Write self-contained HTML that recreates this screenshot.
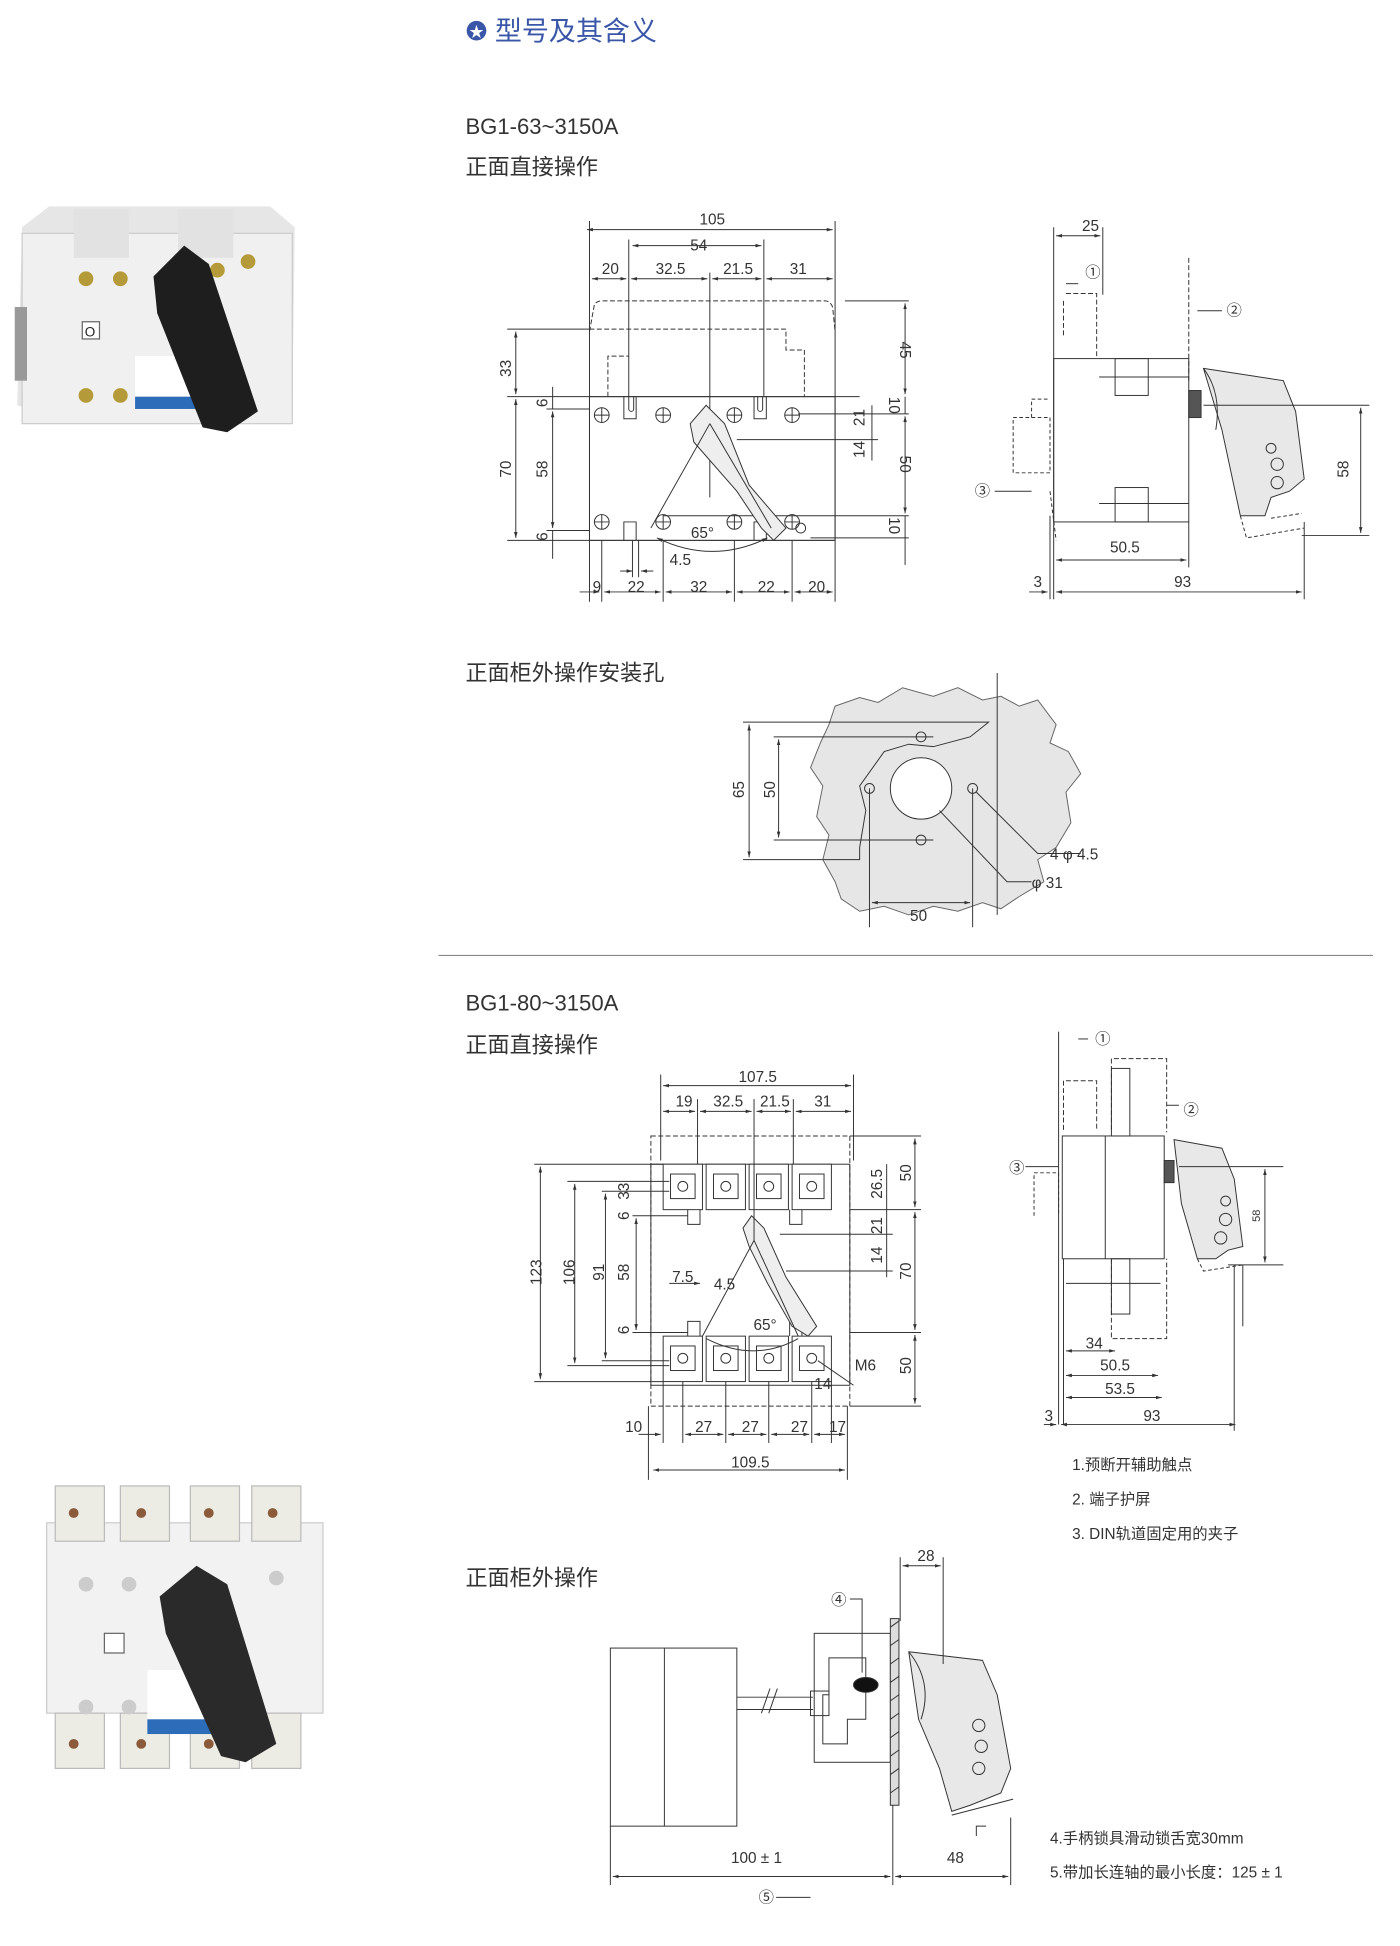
<!DOCTYPE html>
<html><head><meta charset="utf-8"><style>
html,body{margin:0;padding:0;background:#fff;}
svg{display:block;}
text{font-family:"Liberation Sans","Noto Sans CJK SC",sans-serif;fill:#333;}
.d{font-size:12.5px;}
.h{font-size:18px;fill:#333;}
.n{font-size:12.5px;}
</style></head><body>
<svg width="1400" height="1946" viewBox="0 0 1140 1584.6" xmlns="http://www.w3.org/2000/svg">
<defs>
<marker id="a" viewBox="0 0 10 10" refX="10" refY="5" markerWidth="6" markerHeight="6" orient="auto-start-reverse"><path d="M0,2L10,5L0,8z" fill="#333"/></marker>
</defs>
<g stroke="#333" stroke-width="0.8" fill="none">

<!-- ===== Title ===== -->
</g>
<circle cx="388" cy="25" r="8" fill="#3a56a8"/>
<text x="388" y="30" font-size="12" text-anchor="middle" style="fill:#fff">★</text>
<text x="403" y="33" font-size="22" style="fill:#3a56a8">型号及其含义</text>

<text x="379" y="109" font-size="18">BG1-63~3150A</text>
<text x="379" y="142" class="h">正面直接操作</text>
<text x="379" y="554" class="h">正面柜外操作安装孔</text>
<line x1="357" y1="778" x2="1118" y2="778" stroke="#888" stroke-width="1"/>
<text x="379" y="823" font-size="18">BG1-80~3150A</text>
<text x="379" y="857" class="h">正面直接操作</text>
<text x="379" y="1291" class="h">正面柜外操作</text>

<!-- ===== Photo 1 ===== -->
<g>
<polygon points="18,185 40,168 220,168 240,185 238,340 100,345 60,345 14,330" fill="#e6e6e6"/>
<rect x="18" y="190" width="220" height="155" fill="#f0f0f0" stroke="#ccc"/>
<rect x="60" y="170" width="45" height="40" fill="#e2e2e2"/>
<rect x="145" y="170" width="45" height="40" fill="#e2e2e2"/>
<rect x="12" y="250" width="10" height="60" fill="#999"/>
<g fill="#b59a3a"><circle cx="70" cy="227" r="6"/><circle cx="98" cy="227" r="6"/><circle cx="70" cy="322" r="6"/><circle cx="98" cy="322" r="6"/><circle cx="177" cy="220" r="6"/><circle cx="202" cy="213" r="6"/><circle cx="177" cy="322" r="6"/></g>
<rect x="67" y="262" width="14" height="14" fill="#fff" stroke="#666"/>
<text x="69" y="274" font-size="11" style="fill:#222">O</text>
<rect x="110" y="290" width="60" height="40" fill="#fff"/>
<rect x="110" y="323" width="60" height="10" fill="#2c6cb8"/>
<polygon points="125,225 150,200 170,215 210,335 185,352 165,348 128,255" fill="#1e1e1e"/>
</g>

<!-- ===== Photo 2 ===== -->
<g>
<rect x="38" y="1240" width="225" height="155" fill="#f2f2f2" stroke="#ccc"/>
<g fill="#ecece4" stroke="#bbb"><rect x="45" y="1210" width="40" height="45"/><rect x="98" y="1210" width="40" height="45"/><rect x="155" y="1210" width="40" height="45"/><rect x="205" y="1210" width="40" height="45"/>
<rect x="45" y="1395" width="40" height="45"/><rect x="98" y="1395" width="40" height="45"/><rect x="155" y="1395" width="40" height="45"/><rect x="205" y="1395" width="40" height="45"/></g>
<g fill="#8a5a3a"><circle cx="60" cy="1232" r="4"/><circle cx="115" cy="1232" r="4"/><circle cx="170" cy="1232" r="4"/><circle cx="222" cy="1232" r="4"/><circle cx="60" cy="1420" r="4"/><circle cx="115" cy="1420" r="4"/><circle cx="170" cy="1420" r="4"/></g>
<g fill="#ccc"><circle cx="70" cy="1290" r="6"/><circle cx="105" cy="1290" r="6"/><circle cx="225" cy="1285" r="6"/><circle cx="70" cy="1390" r="6"/><circle cx="105" cy="1390" r="6"/></g>
<rect x="85" y="1330" width="16" height="16" fill="#fff" stroke="#666"/>
<rect x="120" y="1360" width="70" height="50" fill="#fff"/>
<rect x="120" y="1400" width="70" height="12" fill="#2c6cb8"/>
<polygon points="130,1300 160,1275 185,1290 225,1420 200,1435 180,1430 135,1330" fill="#2a2a2a"/>
</g>

<g stroke="#333" stroke-width="0.8" fill="none">
<!-- ===== Diagram 1 front ===== -->
<path d="M480,270 L484,248 Q486,245 490,245 L672,245 Q676,245 678,250 L680,270" stroke-dasharray="4,2"/>
<path d="M480,268 L640,268 L640,285 L655,285 L655,323" stroke-dasharray="4,2"/>
<path d="M495,323 L495,290 L512,290" stroke-dasharray="4,2"/>
<rect x="480" y="323" width="200" height="117"/>
<line x1="480" y1="323" x2="480" y2="490"/><line x1="680" y1="180" x2="680" y2="490"/><line x1="480" y1="180" x2="480" y2="323"/>
<line x1="512" y1="195" x2="512" y2="323"/><line x1="622" y1="195" x2="622" y2="323"/><line x1="578" y1="222" x2="578" y2="405"/>
<line x1="478" y1="187" x2="678" y2="187" marker-start="url(#a)" marker-end="url(#a)"/>
<line x1="515" y1="200" x2="620" y2="200" marker-start="url(#a)" marker-end="url(#a)"/>
<line x1="482" y1="227" x2="510" y2="227" marker-start="url(#a)" marker-end="url(#a)"/>
<line x1="514" y1="227" x2="576" y2="227" marker-start="url(#a)" marker-end="url(#a)"/>
<line x1="580" y1="227" x2="620" y2="227" marker-start="url(#a)" marker-end="url(#a)"/>
<line x1="624" y1="227" x2="678" y2="227" marker-start="url(#a)" marker-end="url(#a)"/>
<!-- left dims -->
<line x1="413" y1="268" x2="480" y2="268"/><line x1="413" y1="323" x2="700" y2="323"/><line x1="413" y1="440" x2="680" y2="440"/>
<line x1="420" y1="270" x2="420" y2="321" marker-start="url(#a)" marker-end="url(#a)"/>
<line x1="420" y1="325" x2="420" y2="438" marker-start="url(#a)" marker-end="url(#a)"/>
<line x1="450" y1="335" x2="450" y2="430" marker-start="url(#a)" marker-end="url(#a)"/>
<line x1="450" y1="315" x2="450" y2="333" /><line x1="450" y1="432" x2="450" y2="455"/>
<line x1="445" y1="333" x2="480" y2="333"/><line x1="445" y1="432" x2="480" y2="432"/>
<!-- right dims -->
<line x1="688" y1="245" x2="740" y2="245"/><line x1="650" y1="337" x2="740" y2="337"/><line x1="540" y1="420" x2="740" y2="420"/><line x1="660" y1="438" x2="740" y2="438"/>
<line x1="737" y1="247" x2="737" y2="321" marker-start="url(#a)" marker-end="url(#a)"/>
<line x1="737" y1="323" x2="737" y2="337"/>
<line x1="737" y1="339" x2="737" y2="418" marker-start="url(#a)" marker-end="url(#a)"/>
<line x1="737" y1="420" x2="737" y2="460"/>
<line x1="710" y1="330" x2="710" y2="375"/><line x1="600" y1="358" x2="715" y2="358"/>
<!-- screws -->
<g>
<circle cx="490" cy="338" r="6"/><circle cx="540" cy="338" r="6"/><circle cx="598" cy="338" r="6"/><circle cx="645" cy="338" r="6"/>
<circle cx="490" cy="425" r="6"/><circle cx="540" cy="425" r="6"/><circle cx="598" cy="425" r="6"/><circle cx="645" cy="425" r="6"/>
<path d="M484,338h12M490,332v12M534,338h12M540,332v12M592,338h12M598,332v12M639,338h12M645,332v12"/>
<path d="M484,425h12M490,419v12M534,425h12M540,419v12M592,425h12M598,419v12M639,425h12M645,419v12"/>
</g>
<path d="M508,323v18h10v-18M512,323v10a2,2 0 0 0 4,0v-10"/><path d="M614,323v18h10v-18M617,323v10a2,2 0 0 0 4,0v-10"/>
<path d="M508,440v-15h10v15M614,440v-15h10v15"/>
<!-- handle -->
<polygon points="562,345 575,330 590,345 610,395 640,430 630,440 620,430 600,400 565,360" fill="#eee"/>
<line x1="578" y1="345" x2="530" y2="430"/><line x1="578" y1="345" x2="628" y2="430"/>
<path d="M535,438 Q580,460 625,438" marker-start="url(#a)" marker-end="url(#a)"/>
<circle cx="652" cy="430" r="4"/>
<!-- bottom dims -->
<line x1="490" y1="440" x2="490" y2="490"/><line x1="540" y1="440" x2="540" y2="490"/><line x1="598" y1="440" x2="598" y2="490"/><line x1="645" y1="440" x2="645" y2="490"/>
<line x1="472" y1="482" x2="488" y2="482" marker-end="url(#a)"/>
<line x1="492" y1="482" x2="538" y2="482" marker-start="url(#a)" marker-end="url(#a)"/>
<line x1="542" y1="482" x2="596" y2="482" marker-start="url(#a)" marker-end="url(#a)"/>
<line x1="600" y1="482" x2="643" y2="482" marker-start="url(#a)" marker-end="url(#a)"/>
<line x1="647" y1="482" x2="678" y2="482" marker-start="url(#a)" marker-end="url(#a)"/>
<line x1="505" y1="465" x2="515" y2="465" marker-end="url(#a)"/><line x1="532" y1="465" x2="522" y2="465" marker-end="url(#a)"/>
<line x1="515" y1="440" x2="515" y2="470"/><line x1="520" y1="440" x2="520" y2="470"/>

<!-- ===== Side view 1 ===== -->
<line x1="858" y1="185" x2="858" y2="488"/><line x1="855" y1="420" x2="855" y2="488"/>
<line x1="898" y1="185" x2="898" y2="240"/>
<line x1="860" y1="192" x2="896" y2="192" marker-start="url(#a)" marker-end="url(#a)"/>
<path d="M866,245v30M868,239h25v52" stroke-dasharray="4,2"/>
<path d="M868,231h10" /><path d="M968,210v100" stroke-dasharray="4,2"/>
<line x1="975" y1="253" x2="995" y2="253"/>
<rect x="858" y="292" width="110" height="133"/>
<rect x="908" y="292" width="27" height="30"/><rect x="908" y="397" width="27" height="28"/>
<line x1="895" y1="307" x2="968" y2="307"/><line x1="895" y1="410" x2="968" y2="410"/>
<rect x="968" y="318" width="10" height="22" fill="#555"/>
<polygon points="980,300 1045,310 1055,335 1062,390 1050,400 1035,405 1030,420 1010,420 995,350" fill="#e8e8e8"/>
<path d="M980,300 Q995,320 990,350"/>
<circle cx="1035" cy="365" r="4"/><circle cx="1040" cy="378" r="5"/><circle cx="1040" cy="393" r="5"/>
<path d="M1010,420 L1015,438 L1062,430 M1035,422 L1060,418" stroke-dasharray="3,2"/>
<line x1="980" y1="330" x2="1115" y2="330"/><line x1="1060" y1="436" x2="1115" y2="436"/>
<line x1="1108" y1="332" x2="1108" y2="434" marker-start="url(#a)" marker-end="url(#a)"/>
<path d="M825,385v-45h30v45h-30 M840,340v-15h15" stroke-dasharray="3,2"/>
<path d="M855,400 L860,440" stroke-dasharray="3,2"/>
<line x1="810" y1="400" x2="840" y2="400"/>
<line x1="860" y1="456" x2="966" y2="456" marker-start="url(#a)" marker-end="url(#a)"/>
<line x1="968" y1="425" x2="968" y2="462"/><line x1="1062" y1="425" x2="1062" y2="488"/>
<line x1="838" y1="482" x2="853" y2="482" marker-end="url(#a)"/>
<line x1="860" y1="482" x2="1060" y2="482" marker-start="url(#a)" marker-end="url(#a)"/>

<!-- ===== Mounting hole ===== -->
<polygon points="680,575 700,568 715,572 735,560 760,567 780,560 800,570 815,567 830,575 845,570 860,590 855,605 870,612 880,630 868,645 872,670 860,690 845,700 850,718 830,730 815,740 800,735 780,742 760,738 740,745 720,738 700,742 685,732 680,718 670,700 675,680 665,665 670,640 660,625 668,605 675,590" fill="#e6e6e6" stroke="#666"/>
<line x1="812" y1="548" x2="812" y2="745"/>
<circle cx="750" cy="642" r="25" fill="#fff"/>
<circle cx="750" cy="600" r="4"/><circle cx="750" cy="684" r="4"/><circle cx="708" cy="642" r="4"/><circle cx="792" cy="642" r="4"/>
<path d="M605,588 L805,588 L790,600 L760,608 L740,606 L720,612 L700,640 L705,660 L700,690 L700,700 L605,700"/>
<line x1="630" y1="600" x2="760" y2="600"/><line x1="630" y1="684" x2="760" y2="684"/>
<line x1="610" y1="590" x2="610" y2="698" marker-start="url(#a)" marker-end="url(#a)"/>
<line x1="634" y1="602" x2="634" y2="682" marker-start="url(#a)" marker-end="url(#a)"/>
<line x1="708" y1="642" x2="708" y2="755"/><line x1="792" y1="642" x2="792" y2="755"/>
<line x1="710" y1="735" x2="790" y2="735" marker-start="url(#a)" marker-end="url(#a)"/>
<polyline points="795,645 845,695 880,695"/><polyline points="765,660 820,718 840,718"/>

<!-- ===== Diagram 2 front ===== -->
<rect x="530" y="925" width="162" height="220" stroke-dasharray="4,2"/>
<rect x="530" y="948" width="162" height="180"/>
<g fill="#fff">
<rect x="540" y="948" width="32" height="37"/><rect x="575" y="948" width="32" height="37"/><rect x="610" y="948" width="32" height="37"/><rect x="645" y="948" width="32" height="37"/>
<rect x="540" y="1088" width="32" height="37"/><rect x="575" y="1088" width="32" height="37"/><rect x="610" y="1088" width="32" height="37"/><rect x="645" y="1088" width="32" height="37"/>
</g>
<g><rect x="546" y="956" width="20" height="20"/><rect x="581" y="956" width="20" height="20"/><rect x="616" y="956" width="20" height="20"/><rect x="651" y="956" width="20" height="20"/>
<rect x="546" y="1096" width="20" height="20"/><rect x="581" y="1096" width="20" height="20"/><rect x="616" y="1096" width="20" height="20"/><rect x="651" y="1096" width="20" height="20"/>
<circle cx="556" cy="966" r="4"/><circle cx="591" cy="966" r="4"/><circle cx="626" cy="966" r="4"/><circle cx="661" cy="966" r="4"/>
<circle cx="556" cy="1106" r="4"/><circle cx="591" cy="1106" r="4"/><circle cx="626" cy="1106" r="4"/><circle cx="661" cy="1106" r="4"/></g>
<path d="M560,985v12h10v-12M643,985v12h10v-12M560,1088v-12h10v12M643,1088v-12h10v12"/>
<polygon points="605,1000 612,990 622,1000 640,1040 665,1080 658,1088 645,1080 625,1045 610,1015" fill="#eee"/>
<line x1="614" y1="1010" x2="572" y2="1088"/><line x1="614" y1="1010" x2="650" y2="1088"/>
<path d="M575,1090 Q614,1110 650,1090"/>
<line x1="538" y1="875" x2="538" y2="945"/><line x1="695" y1="875" x2="695" y2="945"/><line x1="568" y1="895" x2="568" y2="948"/><line x1="614" y1="895" x2="614" y2="1010"/><line x1="646" y1="895" x2="646" y2="948"/>
<line x1="540" y1="884" x2="693" y2="884" marker-start="url(#a)" marker-end="url(#a)"/>
<line x1="540" y1="905" x2="566" y2="905" marker-start="url(#a)" marker-end="url(#a)"/>
<line x1="570" y1="905" x2="612" y2="905" marker-start="url(#a)" marker-end="url(#a)"/>
<line x1="616" y1="905" x2="644" y2="905" marker-start="url(#a)" marker-end="url(#a)"/>
<line x1="648" y1="905" x2="693" y2="905" marker-start="url(#a)" marker-end="url(#a)"/>
<line x1="435" y1="948" x2="540" y2="948"/><line x1="435" y1="1125" x2="540" y2="1125"/><line x1="462" y1="962" x2="545" y2="962"/><line x1="462" y1="1112" x2="545" y2="1112"/>
<line x1="490" y1="970" x2="545" y2="970"/><line x1="490" y1="1108" x2="545" y2="1108"/><line x1="515" y1="990" x2="560" y2="990"/><line x1="515" y1="1085" x2="560" y2="1085"/>
<line x1="440" y1="950" x2="440" y2="1123" marker-start="url(#a)" marker-end="url(#a)"/>
<line x1="468" y1="964" x2="468" y2="1110" marker-start="url(#a)" marker-end="url(#a)"/>
<line x1="493" y1="972" x2="493" y2="1106" marker-start="url(#a)" marker-end="url(#a)"/>
<line x1="518" y1="992" x2="518" y2="1083" marker-start="url(#a)" marker-end="url(#a)"/>
<line x1="692" y1="925" x2="750" y2="925"/><line x1="692" y1="985" x2="750" y2="985"/><line x1="692" y1="1085" x2="750" y2="1085"/><line x1="692" y1="1145" x2="750" y2="1145"/>
<line x1="745" y1="927" x2="745" y2="983" marker-start="url(#a)" marker-end="url(#a)"/>
<line x1="745" y1="987" x2="745" y2="1083" marker-start="url(#a)" marker-end="url(#a)"/>
<line x1="745" y1="1087" x2="745" y2="1143" marker-start="url(#a)" marker-end="url(#a)"/>
<line x1="722" y1="948" x2="722" y2="1040"/><line x1="635" y1="1005" x2="727" y2="1005"/><line x1="640" y1="1035" x2="727" y2="1035"/>
<line x1="545" y1="1045" x2="570" y2="1045" marker-end="url(#a)"/>
<line x1="666" y1="1108" x2="695" y2="1128"/>
<line x1="528" y1="1145" x2="528" y2="1205"/><line x1="690" y1="1145" x2="690" y2="1205"/>
<line x1="556" y1="1125" x2="556" y2="1175"/><line x1="591" y1="1125" x2="591" y2="1175"/><line x1="626" y1="1125" x2="626" y2="1175"/><line x1="661" y1="1125" x2="661" y2="1175"/><line x1="540" y1="1125" x2="540" y2="1175"/><line x1="677" y1="1125" x2="677" y2="1175"/>
<line x1="520" y1="1168" x2="538" y2="1168" marker-end="url(#a)"/>
<line x1="558" y1="1168" x2="589" y2="1168" marker-start="url(#a)" marker-end="url(#a)"/>
<line x1="593" y1="1168" x2="624" y2="1168" marker-start="url(#a)" marker-end="url(#a)"/>
<line x1="628" y1="1168" x2="659" y2="1168" marker-start="url(#a)" marker-end="url(#a)"/>
<line x1="663" y1="1168" x2="688" y2="1168" marker-start="url(#a)" marker-end="url(#a)"/>
<line x1="532" y1="1197" x2="688" y2="1197" marker-start="url(#a)" marker-end="url(#a)"/>

<!-- ===== Side view 2 ===== -->
<line x1="862" y1="840" x2="862" y2="1160"/>
<path d="M866,920v-40h27v40" stroke-dasharray="4,2"/><path d="M878,846h8"/>
<path d="M905,920v-58h45v60" stroke-dasharray="4,2"/><line x1="950" y1="900" x2="960" y2="900"/>
<rect x="905" y="870" width="15" height="55"/>
<rect x="865" y="925" width="83" height="100"/><line x1="900" y1="925" x2="900" y2="1025"/>
<rect x="948" y="945" width="8" height="18" fill="#555"/>
<polygon points="956,928 995,935 1005,960 1012,1015 1000,1018 990,1025 975,1025 962,980" fill="#e8e8e8"/>
<circle cx="998" cy="978" r="4"/><circle cx="998" cy="993" r="5"/><circle cx="994" cy="1008" r="5"/>
<path d="M975,1025 L980,1035 L1012,1030" stroke-dasharray="3,2"/>
<line x1="960" y1="950" x2="1045" y2="950"/><line x1="1000" y1="1030" x2="1045" y2="1030"/>
<line x1="1030" y1="952" x2="1030" y2="1028" marker-start="url(#a)" marker-end="url(#a)"/>
<path d="M842,990v-35h20v35" stroke-dasharray="3,2"/><line x1="835" y1="950" x2="862" y2="950"/>
<path d="M905,1025v65h45v-65" stroke-dasharray="4,2"/><rect x="905" y="1025" width="15" height="45"/>
<line x1="1005" y1="1030" x2="1005" y2="1165"/><line x1="1012" y1="1030" x2="1012" y2="1080"/>
<line x1="868" y1="1045" x2="945" y2="1045"/>
<line x1="868" y1="1100" x2="908" y2="1100" marker-start="url(#a)" marker-end="url(#a)"/>
<line x1="868" y1="1120" x2="943" y2="1120" marker-start="url(#a)" marker-end="url(#a)"/>
<line x1="868" y1="1138" x2="946" y2="1138" marker-start="url(#a)" marker-end="url(#a)"/>
<line x1="850" y1="1160" x2="860" y2="1160" marker-end="url(#a)"/>
<line x1="864" y1="1160" x2="1006" y2="1160" marker-start="url(#a)" marker-end="url(#a)"/>
<line x1="866" y1="1025" x2="866" y2="1160"/>

<!-- ===== Bottom (external) ===== -->
<rect x="497" y="1342" width="103" height="145"/><line x1="541" y1="1342" x2="541" y2="1487"/>
<line x1="600" y1="1382" x2="662" y2="1382"/><line x1="600" y1="1392" x2="662" y2="1392"/>
<line x1="620" y1="1395" x2="627" y2="1375"/><line x1="626" y1="1395" x2="633" y2="1375"/>
<rect x="663" y="1330" width="62" height="105"/>
<path d="M675,1350h30v50h-15v20h-20v-40h5z"/>
<rect x="660" y="1377" width="15" height="20"/>
<ellipse cx="705" cy="1372" rx="10" ry="6" fill="#111"/>
<rect x="725" y="1318" width="7" height="152" fill="#ddd"/>
<path d="M725,1325l7,-5M725,1340l7,-5M725,1355l7,-5M725,1370l7,-5M725,1385l7,-5M725,1400l7,-5M725,1415l7,-5M725,1430l7,-5M725,1445l7,-5M725,1460l7,-5"/>
<polygon points="740,1345 800,1352 812,1380 823,1440 815,1460 790,1470 775,1475 765,1440 748,1400" fill="#e8e8e8"/>
<path d="M740,1345 Q760,1370 750,1400"/>
<circle cx="797" cy="1405" r="5"/><circle cx="799" cy="1422" r="5"/><circle cx="797" cy="1440" r="5"/>
<path d="M775,1478 L825,1465 M795,1495v-8h8"/>
<line x1="733" y1="1268" x2="733" y2="1320"/><line x1="768" y1="1268" x2="768" y2="1355"/>
<line x1="735" y1="1275" x2="766" y2="1275" marker-start="url(#a)" marker-end="url(#a)"/>
<path d="M692,1302h10v60"/>
<line x1="497" y1="1487" x2="497" y2="1535"/><line x1="727" y1="1470" x2="727" y2="1535"/><line x1="823" y1="1480" x2="823" y2="1535"/>
<line x1="499" y1="1528" x2="725" y2="1528" marker-start="url(#a)" marker-end="url(#a)"/>
<line x1="729" y1="1528" x2="821" y2="1528" marker-start="url(#a)" marker-end="url(#a)"/>
<line x1="632" y1="1545" x2="660" y2="1545"/>
</g>

<!-- ===== Labels ===== -->
<g class="d">
<text x="580" y="183" text-anchor="middle" class="d">105</text>
<text x="569" y="204" text-anchor="middle" class="d">54</text>
<text x="497" y="223" text-anchor="middle" class="d">20</text>
<text x="546" y="223" text-anchor="middle" class="d">32.5</text>
<text x="601" y="223" text-anchor="middle" class="d">21.5</text>
<text x="650" y="223" text-anchor="middle" class="d">31</text>
<text class="d" transform="translate(416,300) rotate(-90)" text-anchor="middle">33</text>
<text class="d" transform="translate(416,382) rotate(-90)" text-anchor="middle">70</text>
<text class="d" transform="translate(446,382) rotate(-90)" text-anchor="middle">58</text>
<text class="d" transform="translate(446,328) rotate(-90)" text-anchor="middle">6</text>
<text class="d" transform="translate(446,437) rotate(-90)" text-anchor="middle">6</text>
<text class="d" transform="translate(733,285) rotate(90)" text-anchor="middle">45</text>
<text class="d" transform="translate(724,330) rotate(90)" text-anchor="middle">10</text>
<text class="d" transform="translate(733,378) rotate(90)" text-anchor="middle">50</text>
<text class="d" transform="translate(724,428) rotate(90)" text-anchor="middle">10</text>
<text class="d" transform="translate(704,340) rotate(-90)" text-anchor="middle">21</text>
<text class="d" transform="translate(704,366) rotate(-90)" text-anchor="middle">14</text>
<text x="572" y="438" text-anchor="middle" class="d">65°</text>
<text x="554" y="460" text-anchor="middle" class="d">4.5</text>
<text x="486" y="482" text-anchor="middle" class="d">9</text>
<text x="518" y="482" text-anchor="middle" class="d">22</text>
<text x="569" y="482" text-anchor="middle" class="d">32</text>
<text x="624" y="482" text-anchor="middle" class="d">22</text>
<text x="665" y="482" text-anchor="middle" class="d">20</text>
<text x="888" y="188" text-anchor="middle" class="d">25</text>
<text x="890" y="226" text-anchor="middle" class="d">①</text>
<text x="1005" y="257" text-anchor="middle" class="d">②</text>
<text x="800" y="404" text-anchor="middle" class="d">③</text>
<text class="d" transform="translate(1098,382) rotate(-90)" text-anchor="middle">58</text>
<text x="916" y="450" text-anchor="middle" class="d">50.5</text>
<text x="845" y="478" text-anchor="middle" class="d">3</text>
<text x="963" y="478" text-anchor="middle" class="d">93</text>
<text class="d" transform="translate(606,643) rotate(-90)" text-anchor="middle">65</text>
<text class="d" transform="translate(631,643) rotate(-90)" text-anchor="middle">50</text>
<text x="748" y="750" text-anchor="middle" class="d">50</text>
<text x="855" y="700" class="d">4 φ 4.5</text>
<text x="840" y="723" class="d">φ 31</text>
<text x="617" y="881" text-anchor="middle" class="d">107.5</text>
<text x="557" y="901" text-anchor="middle" class="d">19</text>
<text x="593" y="901" text-anchor="middle" class="d">32.5</text>
<text x="631" y="901" text-anchor="middle" class="d">21.5</text>
<text x="670" y="901" text-anchor="middle" class="d">31</text>
<text class="d" transform="translate(441,1036) rotate(-90)" text-anchor="middle">123</text>
<text class="d" transform="translate(468,1036) rotate(-90)" text-anchor="middle">106</text>
<text class="d" transform="translate(492,1036) rotate(-90)" text-anchor="middle">91</text>
<text class="d" transform="translate(512,1036) rotate(-90)" text-anchor="middle">58</text>
<text class="d" transform="translate(512,970) rotate(-90)" text-anchor="middle">33</text>
<text class="d" transform="translate(512,990) rotate(-90)" text-anchor="middle">6</text>
<text class="d" transform="translate(512,1083) rotate(-90)" text-anchor="middle">6</text>
<text class="d" transform="translate(718,964) rotate(-90)" text-anchor="middle">26.5</text>
<text class="d" transform="translate(718,998) rotate(-90)" text-anchor="middle">21</text>
<text class="d" transform="translate(718,1022) rotate(-90)" text-anchor="middle">14</text>
<text class="d" transform="translate(742,955) rotate(-90)" text-anchor="middle">50</text>
<text class="d" transform="translate(742,1035) rotate(-90)" text-anchor="middle">70</text>
<text class="d" transform="translate(742,1112) rotate(-90)" text-anchor="middle">50</text>
<text x="556" y="1044" text-anchor="middle" class="d">7.5</text>
<text x="590" y="1050" text-anchor="middle" class="d">4.5</text>
<text x="623" y="1083" text-anchor="middle" class="d">65°</text>
<text x="696" y="1116" class="d">M6</text>
<text x="670" y="1131" text-anchor="middle" class="d">14</text>
<text x="516" y="1166" text-anchor="middle" class="d">10</text>
<text x="573" y="1166" text-anchor="middle" class="d">27</text>
<text x="611" y="1166" text-anchor="middle" class="d">27</text>
<text x="651" y="1166" text-anchor="middle" class="d">27</text>
<text x="682" y="1166" text-anchor="middle" class="d">17</text>
<text x="611" y="1195" text-anchor="middle" class="d">109.5</text>
<text x="898" y="850" text-anchor="middle" class="d">①</text>
<text x="970" y="908" text-anchor="middle" class="d">②</text>
<text x="828" y="955" text-anchor="middle" class="d">③</text>
<text transform="translate(1026,990) rotate(-90)" text-anchor="middle" font-size="9">58</text>
<text x="891" y="1098" text-anchor="middle" class="d">34</text>
<text x="908" y="1116" text-anchor="middle" class="d">50.5</text>
<text x="912" y="1135" text-anchor="middle" class="d">53.5</text>
<text x="854" y="1157" text-anchor="middle" class="d">3</text>
<text x="938" y="1157" text-anchor="middle" class="d">93</text>
<text x="873" y="1197" class="n">1.预断开辅助触点</text>
<text x="873" y="1225" class="n">2. 端子护屏</text>
<text x="873" y="1253" class="n">3. DIN轨道固定用的夹子</text>
<text x="754" y="1271" text-anchor="middle" class="d">28</text>
<text x="683" y="1307" text-anchor="middle" class="d">④</text>
<text x="616" y="1517" text-anchor="middle" class="d">100 ± 1</text>
<text x="778" y="1517" text-anchor="middle" class="d">48</text>
<text x="624" y="1549" text-anchor="middle" class="d">⑤</text>
<text x="855" y="1501" class="n">4.手柄锁具滑动锁舌宽30mm</text>
<text x="855" y="1529" class="n">5.带加长连轴的最小长度：125 ± 1</text>
</g>
</svg>
</body></html>
